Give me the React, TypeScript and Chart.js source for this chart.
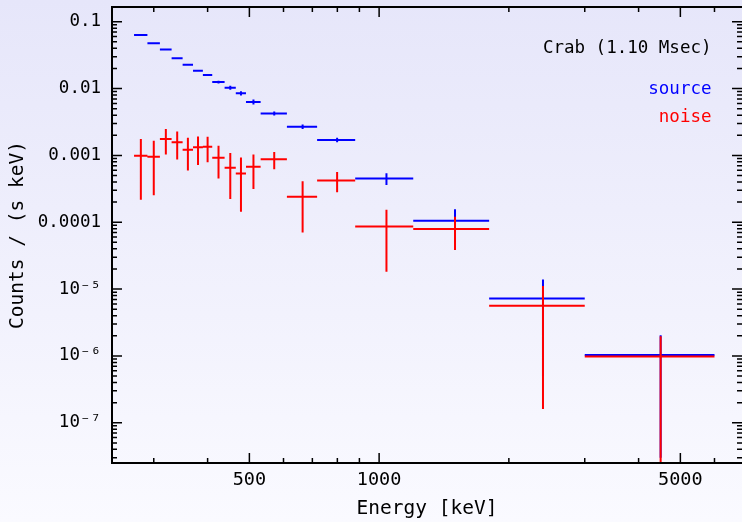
import React, { useEffect, useRef } from 'react';
import { Chart, registerables } from 'chart.js';

Chart.register(...registerables);

// Energy bins (keV): lower and upper edges
const binLow = [270, 290, 310, 330, 350, 370, 390, 410, 438, 465, 491, 531, 611, 718, 880, 1200, 1800, 3000];
const binHigh = [290, 310, 330, 350, 370, 390, 410, 438, 465, 491, 531, 611, 718, 880, 1200, 1800, 3000, 6000];

// Counts / (s keV)
const sourceRate = [0.063, 0.0475, 0.0383, 0.0285, 0.0227, 0.0185, 0.016, 0.0125, 0.0103, 0.0085, 0.0063, 0.00424, 0.00269, 0.0017, 0.000452, 0.000105, 7.2e-6, 1.03e-6];
const sourceErr = [0.0008, 0.0007, 0.0006, 0.0005, 0.0005, 0.0005, 0.0005, 0.0006, 0.0007, 0.0006, 0.00055, 0.0003, 0.0002, 0.00013, 0.00009, 0.000052, 6.7e-6, 1.0e-6];
const noiseRate = [9.87e-4, 9.54e-4, 1.758e-3, 1.568e-3, 1.215e-3, 1.32e-3, 1.347e-3, 9.22e-4, 6.52e-4, 5.38e-4, 6.75e-4, 8.72e-4, 2.4e-4, 4.22e-4, 8.62e-5, 7.93e-5, 5.63e-6, 9.77e-7];
const noiseErr = [7.7e-4, 7.0e-4, 7.3e-4, 7.0e-4, 6.2e-4, 6.0e-4, 5.6e-4, 4.7e-4, 4.3e-4, 3.95e-4, 3.6e-4, 2.5e-4, 1.7e-4, 1.4e-4, 6.8e-5, 4.1e-5, 5.47e-6, 1.0e-6];

// Axis ticks and labels
const xRange = [240, 6950];
const yRange = [2.5e-8, 0.166];
const xTickValues = [500, 1000, 5000];
const xTickLabels = ['500', '1000', '5000'];
const xMinorTicks = [300, 400, 600, 700, 800, 900, 2000, 3000, 4000, 6000];
const yTickValues = [1e-7, 1e-6, 1e-5, 1e-4, 1e-3, 1e-2, 1e-1];
const yTickLabels = ['10⁻⁷', '10⁻⁶', '10⁻⁵', '0.0001', '0.001', '0.01', '0.1'];
const yDecades = [1e-8, 1e-7, 1e-6, 1e-5, 1e-4, 1e-3, 1e-2, 1e-1];
const yMinorMultipliers = [2, 3, 4, 5, 6, 7, 8, 9];

const titleText = 'Crab (1.10 Msec)';
const sourceLabel = 'source';
const noiseLabel = 'noise';
const xTitle = 'Energy [keV]';
const yTitle = 'Counts / (s keV)';

const FONT = '"DejaVu Sans Mono", monospace';

function crossSegments(rate: number[], err: number[]) {
  const pts: { x: number; y: number | null }[] = [];
  for (let i = 0; i < rate.length; i++) {
    const lo = binLow[i];
    const hi = binHigh[i];
    const c = (lo + hi) / 2;
    const v = rate[i];
    const e = err[i];
    pts.push({ x: lo, y: v }, { x: hi, y: v }, { x: c, y: null });
    pts.push({ x: c, y: Math.max(v - e, 1e-12) }, { x: c, y: v + e }, { x: c, y: null });
  }
  return pts;
}

const framePlugin = {
  id: 'frameTicksLabels',
  afterDraw(chart: any) {
    const { ctx, chartArea: a, scales } = chart;
    const xs = scales.x;
    const ys = scales.y;
    ctx.save();
    ctx.strokeStyle = '#000';
    ctx.lineWidth = 1.5;
    const major = 10;
    const minor = 5;
    ctx.beginPath();
    const xTick = (v: number, len: number) => {
      const px = xs.getPixelForValue(v);
      if (px < a.left || px > a.right) return;
      ctx.moveTo(px, a.bottom);
      ctx.lineTo(px, a.bottom - len);
      ctx.moveTo(px, a.top);
      ctx.lineTo(px, a.top + len);
    };
    const yTick = (v: number, len: number) => {
      const py = ys.getPixelForValue(v);
      if (py < a.top || py > a.bottom) return;
      ctx.moveTo(a.left, py);
      ctx.lineTo(a.left + len, py);
      ctx.moveTo(a.right, py);
      ctx.lineTo(a.right - len, py);
    };
    xTickValues.forEach((v) => xTick(v, major));
    xMinorTicks.forEach((v) => xTick(v, minor));
    yTickValues.forEach((v) => yTick(v, major));
    yDecades.forEach((d) => yMinorMultipliers.forEach((m) => yTick(d * m, minor)));
    ctx.stroke();

    ctx.lineWidth = 2;
    ctx.beginPath();
    ctx.moveTo(a.right + 2, a.top);
    ctx.lineTo(a.left, a.top);
    ctx.lineTo(a.left, a.bottom);
    ctx.lineTo(a.right + 2, a.bottom);
    ctx.stroke();

    ctx.textAlign = 'right';
    ctx.textBaseline = 'alphabetic';
    ctx.font = `17.5px ${FONT}`;
    ctx.fillStyle = '#000000';
    ctx.fillText(titleText, a.right - 30.5, a.top + 45.5);
    ctx.fillStyle = '#0000ff';
    ctx.fillText(sourceLabel, a.right - 30.5, a.top + 87);
    ctx.fillStyle = '#ff0000';
    ctx.fillText(noiseLabel, a.right - 30.5, a.top + 115);
    ctx.restore();
  },
};

export default function App() {
  const canvasRef = useRef<HTMLCanvasElement | null>(null);

  useEffect(() => {
    const canvas = canvasRef.current;
    if (!canvas) return;
    const chart = new Chart(canvas, {
      type: 'scatter',
      data: {
        datasets: [
          {
            label: noiseLabel,
            data: crossSegments(noiseRate, noiseErr) as any,
            showLine: true,
            spanGaps: false,
            borderColor: '#ff0000',
            backgroundColor: '#ff0000',
            borderWidth: 2,
            pointRadius: 0,
            pointHoverRadius: 0,
            order: 1,
          },
          {
            label: sourceLabel,
            data: crossSegments(sourceRate, sourceErr) as any,
            showLine: true,
            spanGaps: false,
            borderColor: '#0000ff',
            backgroundColor: '#0000ff',
            borderWidth: 2,
            pointRadius: 0,
            pointHoverRadius: 0,
            order: 2,
          },
        ],
      },
      options: {
        animation: false,
        responsive: false,
        devicePixelRatio: 1,
        layout: { padding: { top: 7, right: 0, bottom: 0, left: 0 } },
        plugins: {
          legend: { display: false },
          tooltip: { enabled: false },
        },
        scales: {
          x: {
            type: 'logarithmic',
            min: xRange[0],
            max: xRange[1],
            grid: { display: false, drawTicks: false },
            border: { display: false },
            afterBuildTicks: (scale: any) => {
              scale.ticks = xTickValues.map((v) => ({ value: v, major: true }));
            },
            afterFit: (scale: any) => {
              scale.height = 59;
              scale.paddingLeft = 0;
              scale.paddingRight = 0;
            },
            ticks: {
              autoSkip: false,
              maxRotation: 0,
              padding: 6,
              color: '#000',
              font: { family: FONT, size: 18.5 },
              callback: (v: any) => {
                const i = xTickValues.indexOf(Number(v));
                return i >= 0 ? xTickLabels[i] : '';
              },
            },
            title: {
              display: true,
              text: xTitle,
              color: '#000',
              font: { family: FONT, size: 19.5 },
              padding: { top: 0, bottom: 1 },
            },
          },
          y: {
            type: 'logarithmic',
            min: yRange[0],
            max: yRange[1],
            grid: { display: false, drawTicks: false },
            border: { display: false },
            afterBuildTicks: (scale: any) => {
              scale.ticks = yTickValues.map((v) => ({ value: v, major: true }));
            },
            afterFit: (scale: any) => {
              scale.width = 112;
              scale.paddingTop = 0;
              scale.paddingBottom = 0;
            },
            ticks: {
              autoSkip: false,
              padding: 11,
              color: '#000',
              font: { family: FONT, size: 17.5 },
              callback: (v: any) => {
                const val = Number(v);
                const i = yTickValues.findIndex((t) => Math.abs(Math.log10(t) - Math.log10(val)) < 1e-6);
                return i >= 0 ? yTickLabels[i] : '';
              },
            },
            title: {
              display: true,
              text: yTitle,
              color: '#000',
              font: { family: FONT, size: 19.5 },
              padding: { top: 6, bottom: 0 },
            },
          },
        },
      } as any,
      plugins: [framePlugin],
    });
    return () => chart.destroy();
  }, []);

  return (
    <div
      style={{
        position: 'fixed',
        left: 0,
        top: 0,
        width: 742,
        height: 522,
        background: 'linear-gradient(to bottom, #e6e6fa 0%, #fafaff 100%)',
      }}
    >
      <canvas ref={canvasRef} width={742} height={522} style={{ display: 'block' }} />
    </div>
  );
}
